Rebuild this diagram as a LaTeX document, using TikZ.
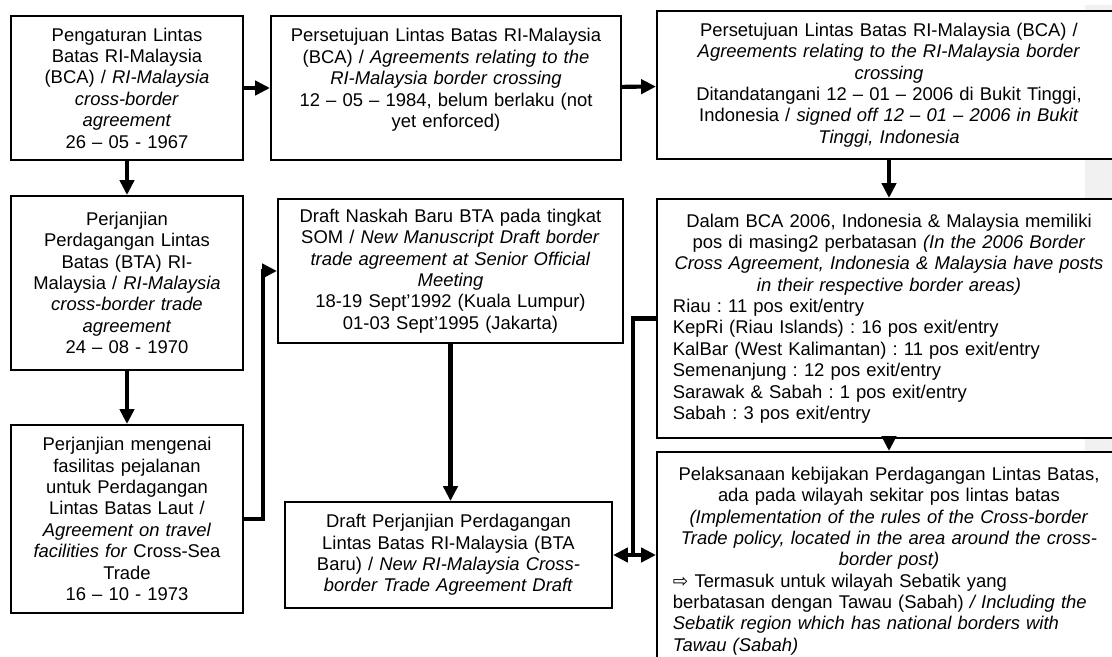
\documentclass[tikz,border=0pt]{standalone}
\usepackage{fontspec}
\setmainfont{Liberation Sans}
\newfontfamily\arrowfont{DejaVu Sans}
\usetikzlibrary{arrows.meta}
\definecolor{pagegray}{RGB}{241,241,241}

\begin{document}
\begin{tikzpicture}[x=0.025cm, y=-0.025cm,
    >={Triangle[length=10.5pt, width=10pt]},
    box/.style={draw, line width=1.4pt, fill=white, inner sep=0pt, align=center,
        font={\fontsize{13.1}{15.2}\selectfont\frenchspacing}},
    link/.style={line width=2.9pt, ->},
]
    \useasboundingbox (0,0) rectangle (1112,657);
    \clip (0,0) rectangle (1112,657);

    % grey strip at the page edge
    \fill[pagegray] (1085,5) rectangle (1112,455);

    % left column
    \node[box, text width=5.375cm, minimum width=5.8cm, minimum height=3.6cm] (pengaturan) at (127,88)
        {Pengaturan Lintas\\ Batas RI-Malaysia\\ (BCA) / \textit{RI-Malaysia}\\ \textit{cross-border}\\ \textit{agreement}\\ 26 – 05 - 1967};
    \node[box, text width=5.375cm, minimum width=5.8cm, minimum height=4.35cm] (bta70) at (127,283)
        {Perjanjian\\ Perdagangan Lintas\\ Batas (BTA) RI-\\ Malaysia / \textit{RI-Malaysia}\\ \textit{cross-border trade}\\ \textit{agreement}\\ 24 – 08 - 1970};
    \node[box, text width=5.375cm, minimum width=5.8cm, minimum height=4.7cm] (fasilitas) at (127,519)
        {Perjanjian mengenai\\ fasilitas pejalanan\\ untuk Perdagangan\\ Lintas Batas Laut /\\ \textit{Agreement on travel}\\ \textit{facilities for} Cross-Sea\\ Trade\\ 16 – 10 - 1973};

    % middle column
    \node[box, text width=8.25cm, minimum width=8.75cm, minimum height=3.6cm, text depth=75pt] (bca84) at (446,88)
        {Persetujuan Lintas Batas RI-Malaysia\\ (BCA) / \textit{Agreements relating to the}\\ \textit{RI-Malaysia border crossing}\\ 12 – 05 – 1984, belum berlaku (not\\ yet enforced)};
    \node[box, text width=8.25cm, minimum width=8.625cm, minimum height=3.6cm] (naskah) at (450.5,271)
        {Draft Naskah Baru BTA pada tingkat\\ SOM / \textit{New Manuscript Draft border}\\ \textit{trade agreement at Senior Official}\\ \textit{Meeting}\\ 18-19 Sept’1992 (Kuala Lumpur)\\ 01-03 Sept’1995 (Jakarta)};
    \node[box, text width=7.75cm, minimum width=8.175cm, minimum height=2.65cm] (draftbta) at (448.5,555)
        {Draft Perjanjian Perdagangan\\ Lintas Batas RI-Malaysia (BTA\\ Baru) / \textit{New RI-Malaysia Cross-}\\ \textit{border Trade Agreement Draft}};

    % right column (runs past the page edge)
    \node[box, text width=11cm, minimum width=11.6cm, minimum height=3.7cm] (bca06) at (889,85)
        {Persetujuan Lintas Batas RI-Malaysia (BCA) /\\ \textit{Agreements relating to the RI-Malaysia border}\\ \textit{crossing}\\ Ditandatangani 12 – 01 – 2006 di Bukit Tinggi,\\ Indonesia / \textit{signed off 12 – 01 – 2006 in Bukit}\\ \textit{Tinggi, Indonesia}};
    \node[box, align=left, text width=10.8cm, minimum width=11.6cm, minimum height=5.975cm] (posts) at (889,318.5)
        {{\centering Dalam BCA 2006, Indonesia \& Malaysia memiliki\\ pos di masing2 perbatasan \textit{(In the 2006 Border}\\ \textit{Cross Agreement, Indonesia \& Malaysia have posts}\\ \textit{in their respective border areas)}\par}
        Riau : 11 pos exit/entry\\ KepRi (Riau Islands) : 16 pos exit/entry\\ KalBar (West Kalimantan) : 11 pos exit/entry\\ Semenanjung : 12 pos exit/entry\\ Sarawak \& Sabah : 1 pos exit/entry\\ Sabah : 3 pos exit/entry};
    \node[box, align=left, text width=10.8cm, minimum width=11.6cm, minimum height=5.45cm] (pelaksanaan) at (889,561)
        {{\centering Pelaksanaan kebijakan Perdagangan Lintas Batas,\\ ada pada wilayah sekitar pos lintas batas\\ \textit{(Implementation of the rules of the Cross-border}\\ \textit{Trade policy, located in the area around the cross-}\\ \textit{border post)}\par}
        {\arrowfont ⇨} Termasuk untuk wilayah Sebatik yang\\ berbatasan dengan Tawau (Sabah) \textit{/ Including the}\\ \textit{Sebatik region which has national borders with}\\ \textit{Tawau (Sabah)}};

    % connectors
    \draw[link] (pengaturan) -- (bca84);
    \draw[link] (bca84) -- (bca06);
    \draw[link] (pengaturan) -- (bta70);
    \draw[link] (bta70) -- (fasilitas);
    \draw[link] (bca06) -- (posts);
    \draw[link] (posts) -- (pelaksanaan);
    \draw[link] (fasilitas.east) -- ++(19,0) |- (naskah.west);
    \draw[link] (naskah) -- (naskah |- draftbta.north);
    \draw[line width=2.9pt] (posts.west) -- ++(-23,0) coordinate (split) -- (split |- draftbta.east);
    \draw[link, <->] (draftbta.east) -- (draftbta.east -| pelaksanaan.west);
\end{tikzpicture}
\end{document}
